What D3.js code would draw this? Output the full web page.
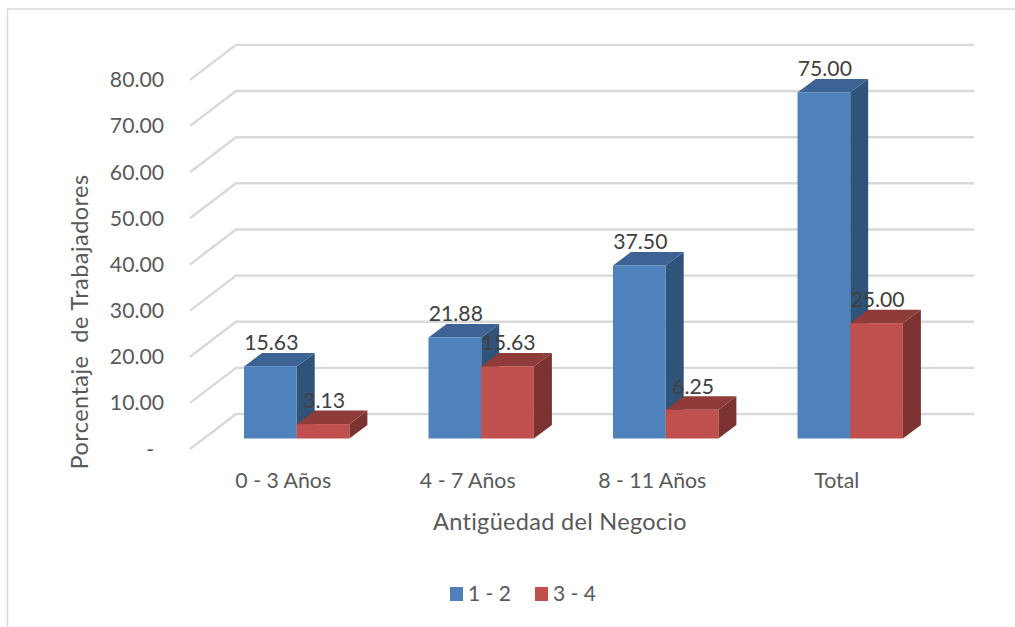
<!DOCTYPE html>
<html><head><meta charset="utf-8">
<script src="https://cdn.jsdelivr.net/npm/d3@7"></script>
<style>html,body{margin:0;padding:0;background:#fff}svg{display:block}text{font-family:Lato,"Open Sans",sans-serif}</style>
</head><body><svg id="c" width="1015" height="627"></svg>
<script>
const categories = ["0 - 3 Años","4 - 7 Años","8 - 11 Años","Total"];
const seriesNames = ["1 - 2","3 - 4"];
const valuesA = [15.63,21.88,37.50,75.00];
const valuesB = [3.13,15.63,6.25,25.00];
const ticks = [0,10,20,30,40,50,60,70,80];
const yTitle = "Porcentaje  de Trabajadores";
const xTitle = "Antigüedad del Negocio";
const frontCol = ["#4f81bd","#c0504d"], topCol = ["#3c6394","#8f3b39"], sideCol = ["#305379","#7b3230"];

const svg = d3.select("#c");
const dx = 18, dy = 13.5, wallDx = 46, wallFront = 10.5, wallBack = -24.5;
const y = d3.scaleLinear().domain([0,80]).range([438.5,69.4]);
const x = d3.scaleBand().domain(categories).range([190,928]);
const barW = 52.7, firstOff = 54;
const axis = "#595959", dark = "#404040";

// frame
svg.append("path").attr("d","M7.5,627V9H1015").attr("fill","none").attr("stroke","#d9d9d9").attr("stroke-width",1.5);

// walls
const grid = svg.append("g").attr("fill","none").attr("stroke","#d9d9d9").attr("stroke-width",2.4);
grid.selectAll("path").data(ticks).join("path")
  .attr("d",v=>`M190,${y(v)+wallFront}L${190+wallDx},${y(v)+wallBack}H974`);

// y labels
svg.append("g").selectAll("text").data(ticks).join("text")
  .attr("x",v=>v===0?154:164).attr("y",v=>y(v)+wallFront+(v===0?1:0)).attr("dy","0.35em").attr("text-anchor","end")
  .attr("font-size",21.2).attr("fill",axis).text(v=>v===0?"-":d3.format(".2f")(v));

// bars
const bars = svg.append("g");
const pts = a=>a.map(p=>p.join(",")).join(" ");
categories.forEach((c,i)=>{
  [valuesA[i],valuesB[i]].forEach((v,s)=>{
    const x0 = x(c)+firstOff+s*barW, x1 = x0+barW, t = y(v), b = y(0);
    bars.append("polygon").attr("fill",sideCol[s]).attr("points",pts([[x1,t],[x1+dx,t-dy],[x1+dx,b-dy],[x1,b]]));
    bars.append("polygon").attr("fill",topCol[s]).attr("points",pts([[x0,t],[x0+dx,t-dy],[x1+dx,t-dy],[x1,t]]));
    bars.append("rect").attr("x",x0).attr("y",t).attr("width",barW).attr("height",b-t).attr("fill",frontCol[s]);
  });
});

// data labels
const labels = svg.append("g").attr("font-size",21.2).attr("fill",dark).attr("text-anchor","middle");
categories.forEach((c,i)=>{
  [valuesA[i],valuesB[i]].forEach((v,s)=>{
    labels.append("text").attr("x",x(c)+firstOff+s*barW+barW/2+1).attr("y",y(v)-23.5).attr("dy","0.35em").text(d3.format(".2f")(v));
  });
});

// x labels
svg.append("g").selectAll("text").data(categories).join("text")
  .attr("x",c=>x(c)+x.bandwidth()/2+1).attr("y",481).attr("dy","0.35em").attr("text-anchor","middle")
  .attr("font-size",21.3).attr("fill",axis).text(c=>c);

// titles
svg.append("text").attr("transform","translate(80,322) rotate(-90)").attr("dy","0.35em").attr("text-anchor","middle")
  .attr("font-size",23.5).attr("letter-spacing",0.45).attr("fill",axis).style("white-space","pre").text(yTitle);
svg.append("text").attr("x",560).attr("y",522).attr("dy","0.35em").attr("text-anchor","middle")
  .attr("font-size",23.5).attr("letter-spacing",0.3).attr("fill",axis).text(xTitle);

// legend
const legendX = [450,535];
seriesNames.forEach((n,i)=>{
  svg.append("rect").attr("x",legendX[i]).attr("y",587).attr("width",13).attr("height",14).attr("fill",frontCol[i]);
  svg.append("text").attr("x",legendX[i]+18).attr("y",594).attr("dy","0.35em").attr("font-size",21).attr("fill",axis).text(n);
});
</script></body></html>
